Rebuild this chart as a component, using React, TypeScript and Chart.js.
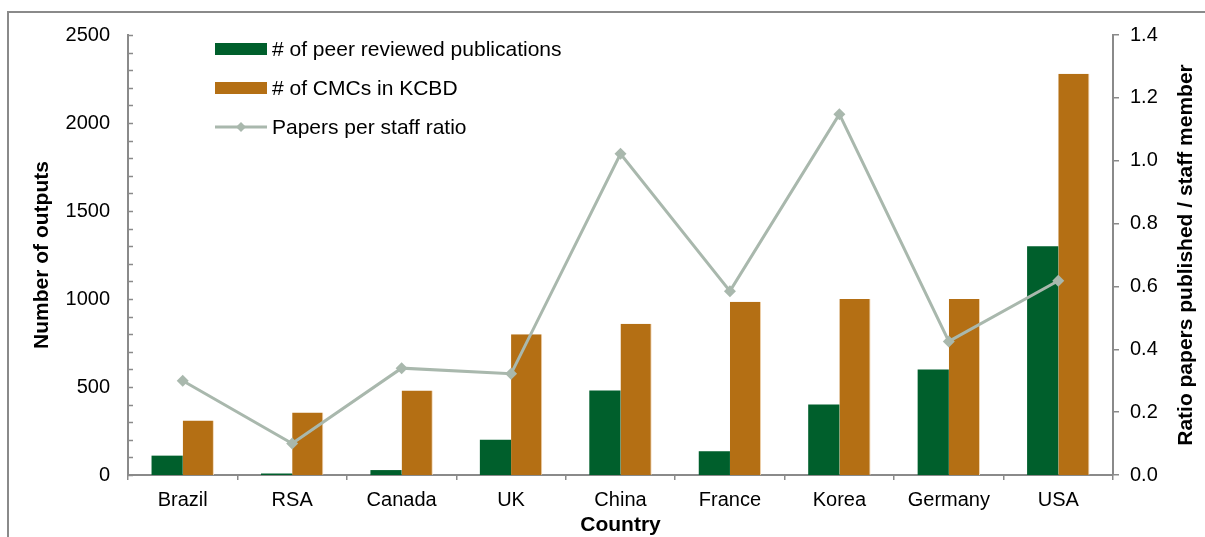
import React, { useEffect, useRef } from "react";
import { Chart, registerables } from "chart.js";

Chart.register(...registerables);

const categories = ["Brazil", "RSA", "Canada", "UK", "China", "France", "Korea", "Germany", "USA"];
const publications = [110, 8, 28, 200, 480, 135, 400, 600, 1300];
const cmcs = [310, 355, 480, 800, 860, 985, 1000, 1000, 2280];
const ratio = [0.3, 0.1, 0.34, 0.322, 1.022, 0.585, 1.148, 0.425, 0.618];

const leftTicks = [0, 500, 1000, 1500, 2000, 2500];
const rightTicks = [0, 0.2, 0.4, 0.6, 0.8, 1.0, 1.2, 1.4];

const GREEN = "#005f2c";
const ORANGE = "#b46f14";
const LINE = "#a9b8ad";
const AXIS = "#8a8a8a";
const FONT = "'Liberation Sans', Arial, Helvetica, sans-serif";
const FS = 20;
const LFS = 21;
const TFS = 21;

const customPlugin = {
  id: "custom",
  afterDraw(chart: any) {
    const ctx = chart.ctx;
    const y = chart.scales.y;
    const area = chart.chartArea;
    ctx.save();
    ctx.strokeStyle = AXIS;
    ctx.lineWidth = 1.5;
    for (let v = 0; v <= 2500; v += 100) {
      const py = Math.round(y.getPixelForValue(v)) + 0.5;
      ctx.beginPath();
      ctx.moveTo(area.left, py);
      ctx.lineTo(area.left + 5, py);
      ctx.stroke();
    }
    const ds = chart.data.datasets;
    const rows = [49, 88, 127];
    const x0 = 215;
    const x1 = 267;
    ctx.font = `${LFS}px ${FONT}`;
    ctx.textBaseline = "middle";
    ctx.textAlign = "left";
    [0, 1, 2].forEach((i, r) => {
      const d = ds[i];
      const cy = rows[r];
      if (d.type === "line") {
        ctx.strokeStyle = d.borderColor;
        ctx.lineWidth = 3;
        ctx.beginPath();
        ctx.moveTo(x0, cy);
        ctx.lineTo(x1, cy);
        ctx.stroke();
        ctx.fillStyle = d.borderColor;
        const cx = (x0 + x1) / 2;
        ctx.beginPath();
        ctx.moveTo(cx, cy - 5);
        ctx.lineTo(cx + 5, cy);
        ctx.lineTo(cx, cy + 5);
        ctx.lineTo(cx - 5, cy);
        ctx.closePath();
        ctx.fill();
      } else {
        ctx.fillStyle = d.backgroundColor;
        ctx.fillRect(x0, cy - 6, x1 - x0, 12);
      }
      ctx.fillStyle = "#000";
      ctx.fillText(d.label, 272, cy + 1);
    });
    ctx.translate(1186, (area.top + area.bottom) / 2);
    ctx.rotate(-Math.PI / 2);
    ctx.font = `bold ${TFS}px ${FONT}`;
    ctx.textAlign = "center";
    ctx.textBaseline = "middle";
    ctx.fillStyle = "#000";
    ctx.fillText("Ratio papers published / staff member", 0, 0);
    ctx.restore();
  },
};

export default function App() {
  const ref = useRef<HTMLCanvasElement | null>(null);

  useEffect(() => {
    if (!ref.current) return;
    Chart.defaults.font.family = FONT;
    Chart.defaults.color = "#000";
    const chart = new Chart(ref.current, {
      type: "bar",
      data: {
        labels: categories,
        datasets: [
          {
            type: "bar",
            label: "# of peer reviewed publications",
            data: publications,
            backgroundColor: GREEN,
            borderWidth: 0,
            categoryPercentage: 0.57,
            barPercentage: 1,
            yAxisID: "y",
            order: 1,
          },
          {
            type: "bar",
            label: "# of CMCs in KCBD",
            data: cmcs,
            backgroundColor: ORANGE,
            borderColor: "#f3d6b3",
            borderWidth: { top: 0, left: 0, bottom: 0, right: 1 },
            categoryPercentage: 0.57,
            barPercentage: 1,
            yAxisID: "y",
            order: 1,
          },
          {
            type: "line",
            label: "Papers per staff ratio",
            data: ratio,
            borderColor: LINE,
            backgroundColor: LINE,
            borderWidth: 3,
            pointStyle: "rectRot",
            pointRadius: 6,
            pointBackgroundColor: LINE,
            pointBorderWidth: 0,
            tension: 0,
            yAxisID: "y1",
            order: 0,
          },
        ] as any,
      },
      options: {
        responsive: false,
        devicePixelRatio: 1,
        animation: false,
        layout: { padding: { top: 35, left: 0, right: 0, bottom: 0 } },
        plugins: {
          legend: { display: false },
          tooltip: { enabled: false },
        },
        scales: {
          x: {
            offset: true,
            grid: {
              display: true,
              offset: true,
              drawOnChartArea: false,
              drawTicks: true,
              tickLength: 5,
              color: AXIS,
              lineWidth: 1.5,
            },
            border: { display: true, color: AXIS, width: 2 },
            ticks: { font: { size: FS }, padding: 8, color: "#000", maxRotation: 0 },
            title: {
              display: true,
              text: "Country",
              font: { size: TFS, weight: "bold" },
              padding: { top: 0, bottom: -1 },
              color: "#000",
            },
            afterFit: (s: any) => {
              s.height = 62;
            },
          },
          y: {
            position: "left",
            min: 0,
            max: 2500,
            afterBuildTicks: (s: any) => {
              s.ticks = leftTicks.map((v) => ({ value: v }));
            },
            grid: { display: false, drawTicks: false },
            border: { display: true, color: AXIS, width: 2 },
            ticks: {
              font: { size: FS },
              padding: 18,
              color: "#000",
              callback: (v: any) => String(v),
            },
            title: {
              display: true,
              text: "Number of outputs",
              font: { size: TFS, weight: "bold" },
              padding: { top: 30, bottom: 0 },
              color: "#000",
            },
            afterFit: (s: any) => {
              s.width = 128;
            },
          },
          y1: {
            position: "right",
            min: 0,
            max: 1.4,
            afterBuildTicks: (s: any) => {
              s.ticks = rightTicks.map((v) => ({ value: v }));
            },
            grid: {
              display: true,
              drawOnChartArea: false,
              drawTicks: true,
              tickLength: 6,
              color: AXIS,
              lineWidth: 1.5,
            },
            border: { display: true, color: AXIS, width: 2 },
            ticks: {
              font: { size: FS },
              padding: 11,
              color: "#000",
              callback: (v: any) => Number(v).toFixed(1),
            },
            afterFit: (s: any) => {
              s.width = 92;
            },
          },
        },
      } as any,
      plugins: [customPlugin],
    });
    return () => chart.destroy();
  }, []);

  return (
    <div
      style={{
        position: "absolute",
        left: 0,
        top: 0,
        width: 1205,
        height: 537,
        overflow: "hidden",
        background: "#fff",
      }}
    >
      <div
        style={{
          position: "absolute",
          left: 7,
          top: 11,
          width: 1300,
          height: 700,
          border: "2px solid #8a8a8a",
        }}
      />
      <canvas ref={ref} width={1205} height={537} style={{ position: "absolute", left: 0, top: 0 }} />
    </div>
  );
}
